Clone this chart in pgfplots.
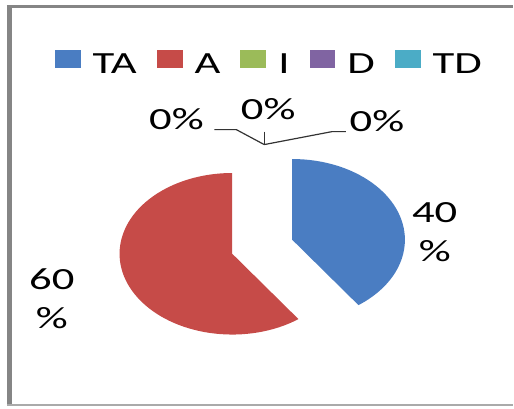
\documentclass[border=0pt]{standalone}
\usepackage{pgfplots}
\pgfplotsset{compat=1.18}
\usepackage{pgfplotstable}
\usepackage{fontspec}
\setmainfont{Carlito}[FakeStretch=1.45]
\definecolor{cTA}{HTML}{4A7DC2}
\definecolor{cA}{HTML}{C64B48}
\definecolor{cI}{HTML}{9BBB59}
\definecolor{cD}{HTML}{8064A2}
\definecolor{cTD}{HTML}{4BACC6}
\definecolor{frame}{HTML}{858585}

\pgfplotstableread{
label value
TA 40
A 60
I 0
D 0
TD 0
}\piedata

\newcommand\getval[2]{\pgfplotstablegetelem{#1}{value}\of\piedata\global\let#2\pgfplotsretval}
\getval{0}\vTA
\getval{1}\vA
\getval{2}\vI
\getval{3}\vD
\getval{4}\vTD
% geometry (1 axis unit = 1bp)
\def\cx{263}\def\cy{161.5}\def\rx{113}\def\ry{81}\def\ex{0.28}
\pgfmathsetmacro\tot{\vTA+\vA+\vI+\vD+\vTD}
\pgfmathsetmacro\sTA{90}
\pgfmathsetmacro\eTA{\sTA-\vTA/\tot*360}
\pgfmathsetmacro\eA{\eTA-\vA/\tot*360}
\pgfmathsetmacro\mTA{(\sTA+\eTA)/2}
\pgfmathsetmacro\mA{(\eTA+\eA)/2}
\pgfmathsetmacro\axTA{\cx+\ex*\rx*cos(\mTA)}
\pgfmathsetmacro\ayTA{\cy+\ex*\ry*sin(\mTA)}
\pgfmathsetmacro\axA{\cx+\ex*\rx*cos(\mA)}
\pgfmathsetmacro\ayA{\cy+\ex*\ry*sin(\mA)}
\pgfmathsetmacro\pxTA{\axTA+\rx*cos(\sTA)}
\pgfmathsetmacro\pyTA{\ayTA+\ry*sin(\sTA)}
\pgfmathsetmacro\pxA{\axA+\rx*cos(\eTA)}
\pgfmathsetmacro\pyA{\ayA+\ry*sin(\eTA)}

\newcommand\legbox[1]{\addlegendimage{legend image code/.code={\path[draw=none,fill=none] (0bp,-4bp) rectangle (0bp,27bp);\fill[#1,draw=none] (0bp,-4bp) rectangle (26bp,14bp);}}}

\begin{document}
\begin{tikzpicture}
\begin{axis}[
  x=1bp, y=1bp, xmin=0, xmax=514, ymin=0, ymax=409,
  hide axis, clip=false, scale only axis,
  legend columns=-1,
  legend style={at={(axis cs:55,353)}, anchor=west, draw=none, fill=none,
    inner sep=0pt, outer sep=0pt,
    font=\fontsize{31}{37}\selectfont,
    nodes={inner sep=0pt},
    /tikz/every odd column/.append style={column sep=12bp},
    /tikz/every even column/.append style={column sep=20bp}},
]
\path (axis cs:0,0) rectangle (axis cs:514,409);
% frame
\draw[frame, line width=5bp] (axis cs:9.5,2) -- (axis cs:9.5,403.5);
\draw[frame, line width=3bp] (axis cs:7,402.5) -- (axis cs:514,402.5);
\draw[frame!70, line width=2bp] (axis cs:7,3) -- (axis cs:514,3);
% slices
\fill[cTA] (axis cs:\axTA,\ayTA) -- (axis cs:\pxTA,\pyTA)
  arc[start angle=\sTA, end angle=\eTA, x radius=\rx bp, y radius=\ry bp] -- cycle;
\fill[cA] (axis cs:\axA,\ayA) -- (axis cs:\pxA,\pyA)
  arc[start angle=\eTA, end angle=\eA, x radius=\rx bp, y radius=\ry bp] -- cycle;
% leader lines
\draw[black!80, line width=1.2bp] (axis cs:215,279) -- (axis cs:237,279) -- (axis cs:265,264);
\draw[black!80, line width=1.2bp] (axis cs:265,277) -- (axis cs:265,264);
\draw[black!80, line width=1.2bp] (axis cs:265,264) -- (axis cs:333,277) -- (axis cs:347,277);
% labels
\node[font=\fontsize{31}{39}\selectfont, inner sep=0pt] at (axis cs:177,290) {0\%};
\node[font=\fontsize{31}{39}\selectfont, inner sep=0pt] at (axis cs:269,300) {0\%};
\node[font=\fontsize{31}{39}\selectfont, inner sep=0pt] at (axis cs:378,288) {0\%};
\node[font=\fontsize{31}{39}\selectfont, inner sep=0pt, align=center] at (axis cs:436,176) {40\\\%};
\node[font=\fontsize{31}{39}\selectfont, inner sep=0pt, align=center] at (axis cs:52,109.5) {60\\\%};
% legend
\legbox{cTA}\addlegendentry{TA}
\legbox{cA}\addlegendentry{A}
\legbox{cI}\addlegendentry{I}
\legbox{cD}\addlegendentry{D}
\legbox{cTD}\addlegendentry{TD}
\end{axis}
\end{tikzpicture}
\end{document}
